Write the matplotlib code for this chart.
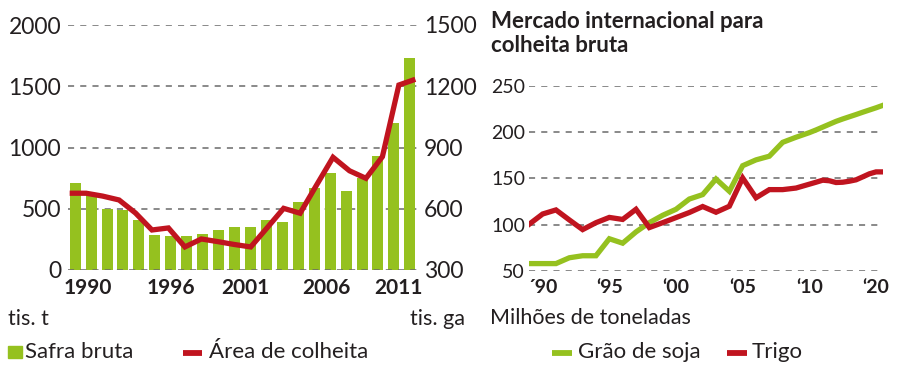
import numpy as np
import matplotlib
matplotlib.use("Agg")
import matplotlib.pyplot as plt
import matplotlib.transforms as mtransforms
from matplotlib.patches import Rectangle
from matplotlib.lines import Line2D

plt.rcParams['font.family'] = ['Lato', 'DejaVu Sans']

GREEN = "#95c11f"
RED = "#c0141f"
GRID = "#6a6a6a"
TEXT = "#231f20"

# painel esquerdo: safra bruta (tis. t) e área de colheita (tis. ga)
years = list(range(1990, 2012))
harvest = [714, 620, 496, 492, 409, 286, 278, 278, 290, 330, 354, 349,
           412, 395, 558, 668, 793, 648, 749, 932, 1199, 1730]
area = [676, 676, 662, 643, 579, 496, 506, 413, 452, 439, 425, 413,
        507, 602, 578, 716, 852, 786, 749, 855, 1206, 1234]
left_ticks = [1990, 1996, 2001, 2006, 2011]

# painel direito: mercado internacional (milhões de toneladas)
mk_years = list(range(1989, 2022))
soy = [57.7, 57.7, 57.7, 64, 66.2, 66.2, 84.6, 79.8, 92, 102, 110, 116.5,
       127.6, 132.4, 149.3, 136, 163.7, 170, 174, 189, 194.5, 199.5,
       202.4, 205.5, 208.6, 211.7, 214.3, 216.7, 219.1, 221.6, 224, 226.4, 229]
wheat = [100.4, 111.4, 115.8, 105, 94.5, 102, 107.7, 105.5, 116.5, 96.7,
         102, 107.5, 113, 119.5, 113.3, 119.8, 150.4, 129, 137.8, 137.8,
         139.5, 143.7, 145.8, 148, 147.4, 145.5, 145.8, 146.9, 148.4, 151.6,
         154.9, 157, 157]
right_ticks = [1990, 1995, 2000, 2005, 2010, 2020]
right_labels = ["´90", "‘95", "‘00", "‘05", "‘10", "‘20"]

W, H = 900, 369
fig = plt.figure(figsize=(W / 100, H / 100), dpi=100)


def px(x0, y0, x1, y1):
    # caixa em pixels (origem no topo) -> coordenadas da figura
    return [x0 / W, 1 - y1 / H, (x1 - x0) / W, (y1 - y0) / H]


dash = (0, (4, 4))

# ---------------- painel esquerdo ----------------
ax1 = fig.add_axes(px(68, 25, 417, 270))
bar_w = 0.69
ax1.bar(years, harvest, width=bar_w, color=GREEN, zorder=2)
ax1.set_xlim(years[0] - 0.45, years[-1] + 0.45)
ax1.set_ylim(0, 2000)
ax1.set_yticks([0, 500, 1000, 1500, 2000])
for v in [500, 1000, 1500, 2000]:
    ax1.axhline(v, color=GRID, lw=1.1, ls=dash, zorder=1)
ax1.axhline(0, color=GRID, lw=1.1, ls=dash, zorder=3)
ax1.set_xticks(left_ticks)
ax1.set_xticklabels([str(y) for y in left_ticks], fontsize=15,
                    fontweight='bold', color=TEXT)
ax1.tick_params(axis='x', length=0, pad=6)
ax1.tick_params(axis='y', length=0, pad=5, labelsize=16.5, labelcolor=TEXT)
# rótulos do eixo x um pouco deslocados, como no original
for lab, dx in zip(ax1.get_xticklabels(), [13, 0, -5, -4, -11]):
    lab.set_transform(lab.get_transform() +
                      mtransforms.ScaledTranslation(dx / 100, 0, fig.dpi_scale_trans))
for s in ax1.spines.values():
    s.set_visible(False)

ax1r = ax1.twinx()
line_x = np.linspace(years[0] - bar_w / 2, years[-1] + bar_w / 2, len(area))
ax1r.plot(line_x, area, color=RED, lw=3.8, solid_joinstyle='miter',
          solid_capstyle='butt', zorder=4)
ax1r.set_ylim(300, 1500)
ax1r.set_yticks([300, 600, 900, 1200, 1500])
ax1r.tick_params(axis='y', length=0, pad=5, labelsize=16.5, labelcolor=TEXT)
for s in ax1r.spines.values():
    s.set_visible(False)

# ---------------- painel direito ----------------
K = 0.5  # escala comprimida depois de 2010


def fwd(x):
    x = np.asarray(x, dtype=float)
    return np.where(x <= 2010, x, 2010 + (x - 2010) * K)


def inv(x):
    x = np.asarray(x, dtype=float)
    return np.where(x <= 2010, x, 2010 + (x - 2010) / K)


ax2 = fig.add_axes(px(529.3, 86, 882.7, 270.7))
ax2.set_xscale('function', functions=(fwd, inv))
ax2.plot(mk_years, soy, color=GREEN, lw=3.8, solid_joinstyle='miter', zorder=3)
ax2.plot(mk_years, wheat, color=RED, lw=3.8, solid_joinstyle='miter', zorder=4)
ax2.set_xlim(1989, 2021)
ax2.set_ylim(50, 250)
ax2.set_yticks([50, 100, 150, 200, 250])
for v in [50, 100, 150, 200, 250]:
    ax2.axhline(v, color=GRID, lw=1.1, ls=dash, zorder=1)
ax2.set_xticks(right_ticks)
ax2.set_xticklabels(right_labels, fontsize=14, fontweight='bold', color=TEXT)
ax2.xaxis.set_minor_locator(plt.NullLocator())
ax2.tick_params(axis='x', length=0, pad=6)
ax2.tick_params(axis='y', length=0, pad=3, labelsize=14, labelcolor=TEXT)
for s in ax2.spines.values():
    s.set_visible(False)

fig.text(491 / W, 1 - 11 / H, "Mercado internacional para\ncolheita bruta",
         fontsize=16, fontweight='bold', color=TEXT, va='top', ha='left',
         linespacing=1.2)

# unidades
fig.text(8 / W, 1 - 325 / H, "tis. t", fontsize=15.5, color=TEXT, va='baseline')
fig.text(410 / W, 1 - 325 / H, "tis. ga", fontsize=15.5, color=TEXT, va='baseline')
fig.text(490 / W, 1 - 324 / H, "Milhões de toneladas", fontsize=15.5, color=TEXT,
         va='baseline')

# legendas
fig.add_artist(Rectangle((8.3 / W, 1 - 358 / H), 13.4 / W, 12 / H,
                         transform=fig.transFigure, color=GREEN))
fig.text(25 / W, 1 - 358.3 / H, "Safra bruta", fontsize=16, color=TEXT,
         va='baseline')
fig.add_artist(Line2D([183 / W, 202 / W], [1 - 353 / H] * 2,
                      transform=fig.transFigure, color=RED, lw=4.2,
                      solid_capstyle='butt'))
fig.text(209 / W, 1 - 358.3 / H, "Área de colheita", fontsize=16, color=TEXT,
         va='baseline')
fig.add_artist(Line2D([551.7 / W, 571.7 / W], [1 - 353 / H] * 2,
                      transform=fig.transFigure, color=GREEN, lw=4.2,
                      solid_capstyle='butt'))
fig.text(577.7 / W, 1 - 358.3 / H, "Grão de soja", fontsize=16, color=TEXT,
         va='baseline')
fig.add_artist(Line2D([726.7 / W, 746.7 / W], [1 - 353 / H] * 2,
                      transform=fig.transFigure, color=RED, lw=4.2,
                      solid_capstyle='butt'))
fig.text(751.7 / W, 1 - 358.3 / H, "Trigo", fontsize=16, color=TEXT,
         va='baseline')

fig.savefig("out.png", dpi=100)
